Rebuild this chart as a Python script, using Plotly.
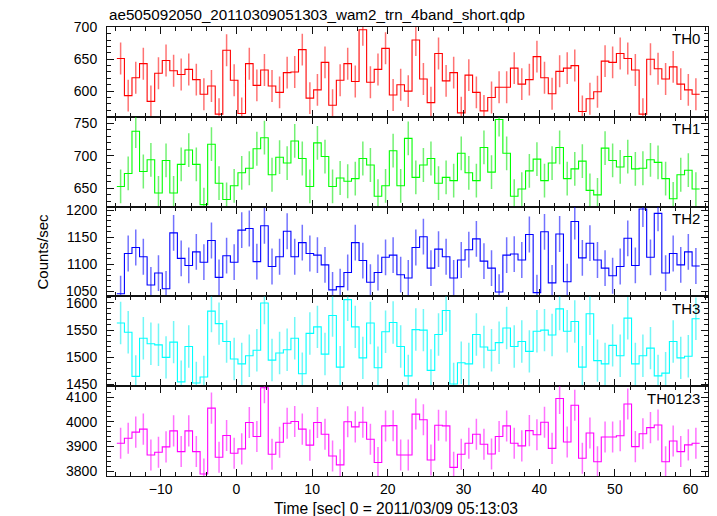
import numpy as np
import plotly.graph_objects as go
from plotly.subplots import make_subplots

TITLE = "ae505092050_20110309051303_wam2_trn_4band_short.qdp"
BANDS = ["TH0", "TH1", "TH2", "TH3", "TH0123"]
COLORS = ["#ff0000", "#00ff00", "#0000ff", "#00ffff", "#ff00ff"]
ERR_COLORS = ["rgba(255,0,0,0.55)", "rgba(0,230,0,0.55)", "rgba(0,0,255,0.55)",
              "rgba(0,240,240,0.55)", "rgba(255,0,255,0.55)"]

# bin centres (s), 1-s bins
T_START = -15.3
BIN_WIDTH = 1.0

TH0 = [651, 593, 621, 643, 584, 628, 648, 632, 626, 634, 618, 595, 608, 564, 664, 617,
       565, 643, 609, 633, 608, 598, 629, 630, 665, 589, 602, 645, 578, 617, 643, 615,
       696, 614, 634, 667, 594, 610, 600, 680, 619, 582, 659, 616, 629, 566, 625, 598,
       569, 590, 606, 606, 636, 611, 618, 654, 621, 596, 631, 636, 640, 568, 588, 599,
       647, 645, 659, 651, 633, 564, 650, 635, 619, 638, 611, 602, 595]
TH1 = [653, 673, 738, 676, 694, 643, 693, 643, 687, 709, 687, 625, 718, 658, 633, 654,
       674, 681, 711, 728, 671, 698, 689, 723, 696, 653, 720, 699, 653, 666, 661, 665,
       696, 686, 638, 654, 708, 654, 727, 667, 686, 696, 658, 667, 662, 704, 674, 662,
       713, 675, 756, 704, 638, 649, 677, 695, 662, 689, 713, 665, 680, 692, 647, 640,
       712, 693, 683, 699, 680, 681, 694, 690, 665, 634, 671, 678, 649]
TH2 = [1046, 1120, 1131, 1114, 1062, 1084, 1055, 1158, 1111, 1098, 1123, 1104, 1144, 1076,
       1116, 1104, 1163, 1166, 1105, 1171, 1096, 1114, 1161, 1114, 1140, 1120, 1117, 1099,
       1053, 1059, 1085, 1140, 1107, 1067, 1085, 1113, 1117, 1081, 1075, 1131, 1151, 1093,
       1128, 1114, 1075, 1108, 1127, 1147, 1106, 1093, 1049, 1117, 1119, 1108, 1155, 1048,
       1160, 1066, 1156, 1068, 1179, 1112, 1139, 1108, 1093, 1079, 1096, 1148, 1098, 1202,
       1113, 1194, 1084, 1120, 1099, 1123, 1097]
TH3 = [1563, 1546, 1465, 1535, 1525, 1523, 1500, 1528, 1455, 1520, 1453, 1464, 1585, 1562,
       1529, 1497, 1488, 1503, 1513, 1600, 1495, 1508, 1514, 1535, 1470, 1544, 1556, 1506,
       1577, 1482, 1606, 1556, 1499, 1563, 1481, 1547, 1564, 1520, 1466, 1551, 1550, 1476,
       1542, 1586, 1451, 1490, 1488, 1542, 1519, 1513, 1527, 1554, 1520, 1529, 1511, 1548,
       1550, 1541, 1589, 1548, 1566, 1482, 1580, 1494, 1488, 1522, 1503, 1572, 1488, 1503,
       1517, 1466, 1471, 1529, 1499, 1502, 1571]
TH0123 = [3913, 3933, 3958, 3970, 3865, 3876, 3898, 3963, 3879, 3963, 3879, 3788, 4055,
          3856, 3944, 3872, 3890, 3997, 3940, 4138, 3868, 3917, 3994, 4001, 3970, 3905,
          3997, 3949, 3861, 3825, 4000, 3979, 3998, 3929, 3835, 3983, 3984, 3865, 3865,
          4031, 4008, 3845, 3986, 3983, 3815, 3868, 3913, 3949, 3909, 3869, 3940, 3983,
          3913, 3902, 3964, 3947, 3998, 3892, 4094, 3918, 4067, 3852, 3954, 3838, 3938,
          3938, 3943, 4072, 3899, 3951, 3976, 3987, 3838, 3922, 3879, 3906, 3913]

# typical 1-sigma error half-length per band
ERRORS = [25, 26, 33, 39, 63]

Y_RANGES = [[559.8, 700.4], [622, 760.2], [1041, 1206.4], [1447, 1612], [3780, 4144]]
Y_DTICK = [50, 50, 50, 50, 100]
Y_MINOR = [10, 10, 10, 10, 20]
X_RANGE = [-17.1, 62.3]

SERIES = [TH0, TH1, TH2, TH3, TH0123]

fig = make_subplots(rows=5, cols=1, shared_xaxes=True, vertical_spacing=0)

font_family = "Liberation Sans, Arial, Helvetica, sans-serif"
AX = "#111"

for i, vals in enumerate(SERIES):
    vals = np.array(vals, dtype=float)
    n = len(vals)
    centers = T_START + BIN_WIDTH * np.arange(n)
    edges = np.concatenate([centers - BIN_WIDTH / 2, [centers[-1] + BIN_WIDTH / 2]])
    ystep = np.concatenate([vals, [vals[-1]]])
    row = i + 1
    fig.add_trace(go.Scatter(
        x=centers, y=vals, mode="markers",
        marker=dict(size=0.1, color="rgba(0,0,0,0)"),
        error_y=dict(type="constant", value=ERRORS[i], width=0, thickness=1.5,
                     color=ERR_COLORS[i]),
        showlegend=False, hoverinfo="skip"), row=row, col=1)
    fig.add_trace(go.Scatter(
        x=edges, y=ystep, mode="lines", line=dict(shape="hv", color=COLORS[i], width=1.1),
        showlegend=False), row=row, col=1)

    fig.update_yaxes(
        range=Y_RANGES[i], dtick=Y_DTICK[i], tick0=0, tickmode="linear",
        ticks="inside", ticklen=7, tickwidth=1, tickcolor=AX,
        minor=dict(ticks="inside", dtick=Y_MINOR[i], ticklen=4, tickwidth=1, tickcolor=AX, showgrid=False),
        showline=True, linecolor=AX, linewidth=1, mirror="ticks",
        showgrid=False, zeroline=False, ticklabelstandoff=6,
        tickfont=dict(size=14, color="black", family=font_family),
        row=row, col=1)
    fig.update_xaxes(
        range=X_RANGE, dtick=10, tick0=0, tickmode="linear",
        ticks="inside", ticklen=7, tickwidth=1, tickcolor=AX,
        minor=dict(ticks="inside", dtick=2, ticklen=4, tickwidth=1, tickcolor=AX, showgrid=False),
        showline=True, linecolor=AX, linewidth=1, mirror="ticks",
        showgrid=False, zeroline=False,
        showticklabels=(row == 5),
        tickfont=dict(size=14, color="black", family=font_family),
        row=row, col=1)

    axname = "x domain" if row == 1 else f"x{row} domain"
    yname = "y domain" if row == 1 else f"y{row} domain"
    fig.add_annotation(text=BANDS[i], xref=axname, yref=yname, x=0.99, y=0.985,
                       xanchor="right", yanchor="top", showarrow=False,
                       font=dict(size=15, color="black", family=font_family))

fig.add_annotation(text=TITLE, xref="paper", yref="paper", x=0, y=1.0, yshift=2,
                   xanchor="left", yanchor="bottom", showarrow=False,
                   font=dict(size=15.2, color="black", family=font_family))
fig.add_annotation(text="Counts/sec", xref="paper", yref="paper", x=0, xshift=-65, y=0.5,
                   textangle=-90, xanchor="center", yanchor="middle", showarrow=False,
                   font=dict(size=15, color="black", family=font_family))
fig.add_annotation(text="Time [sec] 0 = 2011/03/09 05:13:03", xref="paper", yref="paper",
                   x=0.481, y=0, yshift=-22, xanchor="center", yanchor="top", showarrow=False,
                   font=dict(size=15.6, color="black", family=font_family))

fig.update_layout(
    width=717, height=516,
    margin=dict(l=107, r=9, t=27, b=40),
    paper_bgcolor="white", plot_bgcolor="white",
    font=dict(family=font_family, color="black"),
)

fig.write_html("out.html", config={"displayModeBar": False},
               post_script="document.body.style.margin='0';document.body.style.overflow='hidden';")
